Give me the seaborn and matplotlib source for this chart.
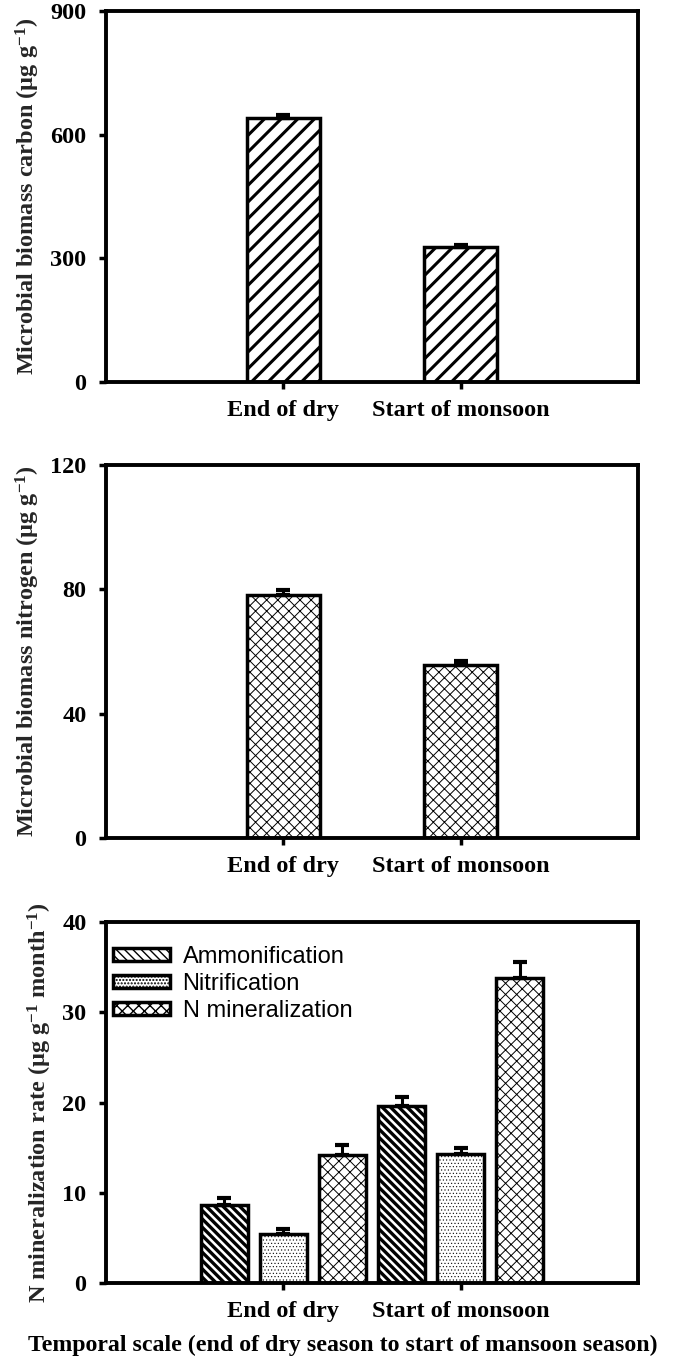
"""
Microbial biomass and N mineralization, end of dry vs start of monsoon
"""

import pandas as pd
import numpy as np
import matplotlib
matplotlib.use("Agg")
import matplotlib.pyplot as plt
import seaborn as sns

seasons = ["End of dry", "Start of monsoon"]

mbc = [640, 328]
mbc_err = [8, 5]

mbn = [78.3, 55.6]
mbn_err = [1.5, 1.2]

processes = ["Ammonification", "Nitrification", "N mineralization"]
n_rates = {
    "Ammonification": [8.7, 19.6],
    "Nitrification": [5.4, 14.3],
    "N mineralization": [14.2, 33.8],
}
n_errs = {
    "Ammonification": [0.7, 1.0],
    "Nitrification": [0.6, 0.7],
    "N mineralization": [1.1, 1.8],
}

sns.set_theme(style="white")
plt.rcParams.update({
    "font.family": ["Liberation Serif", "DejaVu Serif"],
    "font.weight": "bold",
    "axes.labelweight": "bold",
    "mathtext.default": "regular",
    "axes.linewidth": 2.8,
    "axes.edgecolor": "black",
    "xtick.color": "black",
    "ytick.color": "black",
    "text.color": "black",
})

FS = 17.5
LW = 2.5


def style_axis(ax, ymax, yticks, ylabel):
    ax.set_xlim(-1, 2)
    ax.set_ylim(0, ymax)
    ax.set_yticks(yticks)
    ax.set_yticklabels([str(t) for t in yticks], fontsize=FS, fontweight="bold")
    ax.set_xticks([0, 1])
    ax.set_xticklabels(seasons, fontsize=FS, fontweight="bold")
    ax.tick_params(axis="both", direction="out", length=5, width=2.5,
                   bottom=True, left=True, top=False, right=False)
    ax.tick_params(axis="x", pad=8)
    ax.tick_params(axis="y", pad=9)
    ax.set_xlabel("")
    ax.set_ylabel(ylabel, fontsize=FS, fontweight="bold", labelpad=6)
    for s in ax.spines.values():
        s.set_visible(True)
        s.set_linewidth(2.8)
        s.set_color("black")


def add_errors(ax, patches, errs):
    xs = [p.get_x() + p.get_width() / 2 for p in patches]
    ys = [p.get_height() for p in patches]
    ax.errorbar(xs, ys, yerr=[np.zeros(len(errs)), errs], fmt="none",
                ecolor="black", elinewidth=2.2, capsize=5, capthick=3, zorder=1)


fig = plt.figure(figsize=(6.85, 13.69), dpi=100)
ax1 = fig.add_axes([0.1547, 0.7210, 0.7766, 0.2710])
ax2 = fig.add_axes([0.1547, 0.3879, 0.7766, 0.2725])
ax3 = fig.add_axes([0.1547, 0.0628, 0.7766, 0.2637])

# Panel 1: microbial biomass carbon
df_c = pd.DataFrame({"season": seasons, "value": mbc})
sns.barplot(data=df_c, x="season", y="value", color="white", saturation=1,
            width=0.41, edgecolor="black", linewidth=LW, ax=ax1)
for p in ax1.patches:
    p.set_hatch("//")
    p.set_hatch_linewidth(2.2)
add_errors(ax1, ax1.patches, mbc_err)
style_axis(ax1, 900, [0, 300, 600, 900], r"Microbial biomass carbon (µg g$^{-1}$)")

# Panel 2: microbial biomass nitrogen
df_n = pd.DataFrame({"season": seasons, "value": mbn})
sns.barplot(data=df_n, x="season", y="value", color="white", saturation=1,
            width=0.41, edgecolor="black", linewidth=LW, ax=ax2)
for p in ax2.patches:
    p.set_hatch("xxx")
    p.set_hatch_linewidth(0.7)
add_errors(ax2, ax2.patches, mbn_err)
style_axis(ax2, 120, [0, 40, 80, 120], r"Microbial biomass nitrogen (µg g$^{-1}$)")

# Panel 3: N mineralization rates
rows = []
for proc in processes:
    for s, v in zip(seasons, n_rates[proc]):
        rows.append({"season": s, "process": proc, "rate": v})
df_rate = pd.DataFrame(rows)
sns.barplot(data=df_rate, x="season", y="rate", hue="process", hue_order=processes,
            palette=["white"] * 3, saturation=1, width=1, gap=0.2,
            edgecolor="black", linewidth=LW, legend=False, ax=ax3)
hatches = {"Ammonification": ("\\\\\\\\", 2.4),
           "Nitrification": (".....", 0.4),
           "N mineralization": ("xxx", 0.7)}
for proc, cont in zip(processes, ax3.containers):
    h, hw = hatches[proc]
    for p in cont.patches:
        p.set_hatch(h)
        p.set_hatch_linewidth(hw)
    add_errors(ax3, cont.patches, n_errs[proc])
style_axis(ax3, 40, [0, 10, 20, 30, 40],
           r"N mineralization rate (µg g$^{-1}$ month$^{-1}$)")

ax3.legend(ax3.containers, processes, loc="upper left",
           bbox_to_anchor=(0.013, 0.934), frameon=False, borderpad=0,
           borderaxespad=0, handlelength=2.4, handleheight=0.45,
           handletextpad=0.55, labelspacing=0.22,
           prop={"family": "Liberation Sans", "weight": "normal", "size": 17})

fig.text(0.5, 0.0175, "Temporal scale (end of dry season to start of mansoon season)",
         ha="center", va="center", fontsize=17.2, fontweight="bold")

plt.savefig("out.png", dpi=100)
plt.close()
